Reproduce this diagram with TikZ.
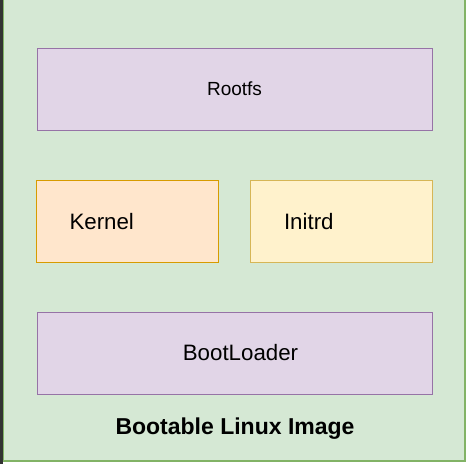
\documentclass[tikz,border=0pt]{standalone}
\usepackage{fontspec}
\setmainfont{Liberation Sans}
\usetikzlibrary{positioning}
\definecolor{imgfill}{HTML}{D5E8D4}
\definecolor{imgline}{HTML}{82B366}
\definecolor{purpfill}{HTML}{E1D5E7}
\definecolor{purpline}{HTML}{9673A6}
\definecolor{orgfill}{HTML}{FFE6CC}
\definecolor{orgline}{HTML}{D79B00}
\definecolor{yelfill}{HTML}{FFF2CC}
\definecolor{yelline}{HTML}{D6B656}
\tikzset{every node/.style={font=\fontsize{22.3}{26}\selectfont},
  part/.style={draw, line width=1pt, minimum height=82pt, inner sep=0pt},
  wide/.style={part, fill=purpfill, draw=purpline, minimum width=395pt},
  half/.style={part, minimum width=182pt, text width=115pt, inner xsep=33.5pt, align=left}}

\begin{document}
\begin{tikzpicture}[x=1pt,y=-1pt]
  \useasboundingbox (0,0) rectangle (468,464);
  \fill[white] (0,0) rectangle (468,464);
  \fill[black!80] (0,0) rectangle (3,464);
  \draw[imgline, fill=imgfill, line width=1.2pt] (3.5,-2) rectangle (465,461);
  % the parts of the image
  \node[wide, font=\fontsize{19}{23}\selectfont] (rootfs) at (234.5,89) {Rootfs};
  \node[half, fill=orgfill, draw=orgline] (kernel) at (127,221.5) {Kernel};
  \node[half, fill=yelfill, draw=yelline] (initrd) at (341.5,221.5) {Initrd};
  \node[wide] (boot) at (234.5,353) {\hspace*{12pt}BootLoader};
  \node[font=\fontsize{23}{27}\selectfont\bfseries] (title) at (235,429) {Bootable Linux Image};
\end{tikzpicture}
\end{document}
